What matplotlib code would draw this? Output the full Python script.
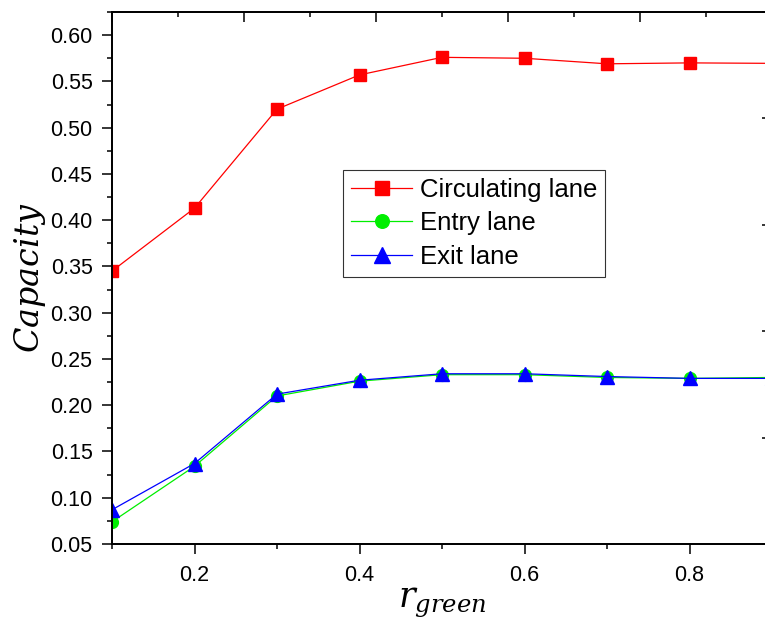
import matplotlib.pyplot as plt
from matplotlib.ticker import MultipleLocator

plt.rcParams["font.family"] = ["Liberation Sans", "DejaVu Sans"]
plt.rcParams["mathtext.fontset"] = "custom"
plt.rcParams["mathtext.it"] = "DejaVu Serif:italic"
plt.rcParams["mathtext.rm"] = "DejaVu Serif"

# green-time ratio and lane capacities
r_green = [0.1, 0.2, 0.3, 0.4, 0.5, 0.6, 0.7, 0.8, 0.9]
circulating = [0.345, 0.413, 0.520, 0.557, 0.576, 0.575, 0.569, 0.570, 0.5695]
entry = [0.074, 0.134, 0.210, 0.226, 0.233, 0.233, 0.230, 0.229, 0.230]
exit_lane = [0.087, 0.137, 0.212, 0.227, 0.234, 0.234, 0.231, 0.229, 0.229]

fig = plt.figure(figsize=(7.65, 6.28), dpi=100)
ax = fig.add_axes([112 / 765, 84 / 628, 660 / 765, 532 / 628])

ax.plot(r_green, circulating, color="#ff0000", lw=0.9, marker="s", ms=8.5,
        label="Circulating lane")
ax.plot(r_green, entry, color="#00ee00", lw=0.9, marker="o", ms=8.5,
        label="Entry lane")
ax.plot(r_green, exit_lane, color="#0000ff", lw=0.9, marker="^", ms=10,
        label="Exit lane")

ax.set_xlim(0.1, 0.9)
ax.set_ylim(0.05, 0.625)
ax.xaxis.set_major_locator(MultipleLocator(0.2))
ax.xaxis.set_minor_locator(MultipleLocator(0.1))
ax.yaxis.set_major_locator(MultipleLocator(0.05))
ax.yaxis.set_minor_locator(MultipleLocator(0.025))
ax.yaxis.set_major_formatter(lambda v, _: f"{v:.2f}")
ax.xaxis.set_major_formatter(lambda v, _: f"{v:.1f}")
ax.tick_params(which="major", direction="out", length=7, width=1.1,
               labelsize=15.5, pad=7)
ax.tick_params(which="minor", direction="out", length=3.5, width=1.1)
ax.tick_params(axis="x", which="major", pad=8)
for sp in ax.spines.values():
    sp.set_linewidth(1.1)

# unlabelled top and right scales
top = ax.twiny()
top.set_xlim(0, 1.0)
top.xaxis.set_major_locator(MultipleLocator(0.2))
top.xaxis.set_minor_locator(MultipleLocator(0.1))
top.tick_params(axis="x", which="major", direction="in", length=7, width=1.1,
                labeltop=False)
top.tick_params(axis="x", which="minor", direction="in", length=3.5, width=1.1)
right = ax.twinx()
right.set_ylim(0, 1.0)
right.yaxis.set_major_locator(MultipleLocator(0.2))
right.tick_params(axis="y", direction="in", length=7, width=1.1,
                  labelright=False)
for a in (top, right):
    for sp in a.spines.values():
        sp.set_linewidth(1.1)

ax.set_ylabel("$Capacity$", fontsize=24, labelpad=2)
ax.set_xlabel("$r_{green}$", fontsize=25, labelpad=0)

leg = ax.legend(loc="upper left",
                bbox_to_anchor=((343 - 112) / 660, (544 - 170) / 532),
                bbox_transform=ax.transAxes, fontsize=18.5, frameon=True,
                fancybox=False, edgecolor="black", handlelength=2.4,
                handletextpad=0.3, borderaxespad=0, labelspacing=0.38,
                borderpad=0.3, markerscale=1.15)
leg.get_frame().set_linewidth(0.8)
leg.set_zorder(5)

fig.savefig("out.png", dpi=100)
